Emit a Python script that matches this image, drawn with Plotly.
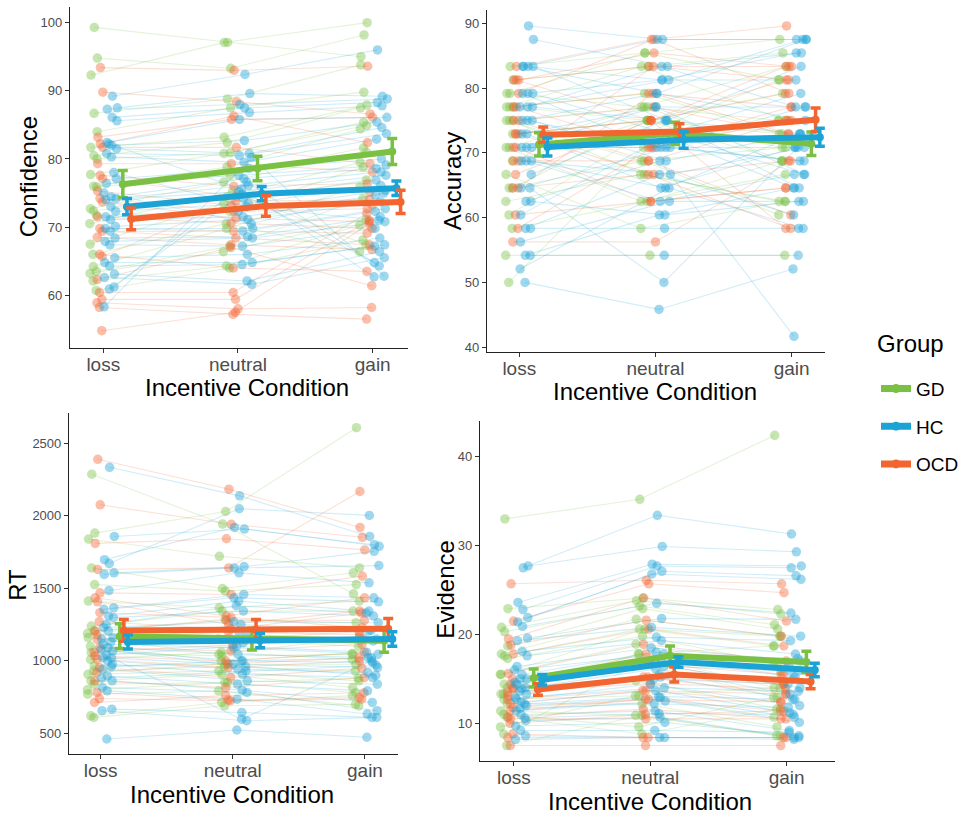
import plotly.graph_objects as go

FONT = "Liberation Sans, Arial, Helvetica, sans-serif"
W, H = 978, 818

CONDITIONS = ["loss", "neutral", "gain"]
GROUPS = ["GD", "HC", "OCD"]
COLOR = {"GD": "#7AC143", "HC": "#1BA3D6", "OCD": "#F26531"}

# ---- per-subject values: [loss, neutral, gain] ----
CONF_GD = [
    [99.3, 97.1, 95.0], [94.8, 93.3, 98.2], [92.3, 97.1, 100.0], [86.7, 88.8, 93.8],
    [84.0, 87.5, 89.8], [81.7, 83.2, 87.9], [80.5, 82.4, 87.5], [80.0, 80.9, 85.4],
    [77.7, 80.8, 84.9], [76.0, 78.8, 84.4], [75.9, 77.6, 81.6], [72.7, 76.6, 81.0],
    [72.4, 74.4, 79.5], [71.7, 72.3, 78.8], [67.5, 73.5, 76.9], [64.2, 69.8, 75.9],
    [63.5, 67.2, 74.2], [63.2, 66.4, 71.1], [62.1, 64.3, 70.3], [60.7, 64.0, 68.1],
    [70.5, 75.2, 67.4], [66.0, 70.5, 66.4],
]
CONF_HC = [
    [89.2, 92.4, 96.0], [87.5, 89.6, 89.2], [87.3, 88.0, 88.8], [86.1, 87.5, 88.3],
    [85.6, 86.8, 87.8], [82.4, 85.8, 86.1], [82.0, 82.7, 85.4], [81.5, 80.8, 84.6],
    [80.8, 80.5, 83.7], [80.3, 79.5, 82.9], [77.1, 78.6, 80.0], [76.4, 77.6, 79.1],
    [74.4, 77.1, 78.6], [74.2, 76.1, 78.1], [74.0, 75.2, 77.6], [73.0, 74.2, 76.9],
    [72.3, 73.5, 76.1], [71.5, 72.3, 75.4], [71.1, 71.5, 74.7], [70.1, 71.1, 73.7],
    [69.8, 69.8, 72.7], [69.4, 69.4, 72.3], [68.4, 68.6, 71.5], [67.9, 68.4, 70.8],
    [67.4, 67.2, 69.8], [65.5, 66.0, 68.4], [64.8, 64.8, 67.4], [64.3, 64.5, 67.2],
    [63.1, 62.1, 66.4], [62.6, 61.6, 65.5], [60.9, 74.8, 64.8], [61.2, 76.6, 64.3],
    [58.3, 80.2, 62.8], [82.2, 75.6, 62.7], [78.0, 73.0, 71.0], [75.0, 70.5, 75.0],
]
CONF_OCD = [
    [93.4, 93.0, 93.6], [89.8, 88.4, 86.6], [83.2, 85.8, 86.1], [82.2, 86.3, 82.4],
    [81.7, 81.7, 79.3], [79.3, 79.3, 78.1], [77.6, 76.0, 76.4], [77.1, 74.5, 75.2],
    [75.3, 73.2, 73.2], [74.2, 72.3, 72.7], [73.7, 71.3, 70.8], [71.5, 70.6, 69.8],
    [69.8, 69.4, 69.1], [69.4, 68.4, 67.4], [68.5, 67.4, 66.7], [66.0, 64.0, 63.5],
    [65.7, 73.8, 74.0], [62.3, 67.0, 61.4], [60.4, 60.4, 72.0], [59.4, 59.4, 71.0],
    [58.9, 58.0, 58.2], [58.2, 57.2, 56.5], [54.8, 57.5, 70.5],
]

ACC_GD = [
    [83.33, 85.42, 87.5], [81.25, 83.33, 85.42], [79.17, 77.08, 83.33], [79.17, 85.42, 81.25],
    [77.08, 75.0, 79.17], [77.08, 83.33, 75.0], [77.08, 79.17, 72.92], [75.0, 77.08, 68.75],
    [75.0, 68.75, 70.83], [75.0, 66.67, 62.5], [72.92, 75.0, 70.83], [70.83, 62.5, 66.67],
    [70.83, 77.08, 75.0], [68.75, 75.0, 68.75], [66.67, 58.33, 62.5], [64.58, 68.75, 60.42],
    [64.58, 75.0, 72.92], [62.5, 66.67, 62.5], [60.42, 72.92, 81.25], [58.33, 62.5, 68.75],
    [54.17, 54.17, 54.17], [50.0, 70.83, 75.0],
]
ACC_HC = [
    [89.58, 87.5, 87.5], [87.5, 83.33, 85.42], [83.33, 87.5, 87.5], [83.33, 81.25, 85.42],
    [83.33, 75.0, 83.33], [83.33, 79.17, 87.5], [79.17, 81.25, 81.25], [79.17, 72.92, 79.17],
    [79.17, 70.83, 77.08], [77.08, 83.33, 77.08], [77.08, 75.0, 72.92], [75.0, 79.17, 75.0],
    [75.0, 70.83, 70.83], [75.0, 68.75, 72.92], [72.92, 77.08, 77.08], [72.92, 64.58, 70.83],
    [70.83, 70.83, 68.75], [70.83, 77.08, 66.67], [70.83, 72.92, 64.58], [68.75, 64.58, 72.92],
    [68.75, 66.67, 70.83], [68.75, 62.5, 66.67], [66.67, 75.0, 64.58], [64.58, 70.83, 68.75],
    [62.5, 68.75, 41.67], [62.5, 60.42, 62.5], [60.42, 72.92, 66.67], [58.33, 66.67, 60.42],
    [58.33, 58.33, 58.33], [56.25, 62.5, 62.5], [54.17, 60.42, 64.58], [54.17, 54.17, 54.17],
    [52.08, 64.58, 58.33], [50.0, 45.83, 52.08], [64.58, 50.0, 70.83], [77.08, 81.25, 87.5],
]
ACC_OCD = [
    [83.33, 87.5, 89.58], [81.25, 85.42, 83.33], [81.25, 83.33, 83.33], [81.25, 75.0, 81.25],
    [79.17, 87.5, 79.17], [77.08, 79.17, 77.08], [77.08, 70.83, 75.0], [75.0, 77.08, 72.92],
    [75.0, 68.75, 75.0], [72.92, 75.0, 83.33], [72.92, 66.67, 68.75], [70.83, 70.83, 77.08],
    [70.83, 62.5, 64.58], [68.75, 83.33, 81.25], [68.75, 68.75, 60.42], [66.67, 75.0, 58.33],
    [64.58, 79.17, 72.92], [64.58, 66.67, 58.33], [60.42, 62.5, 64.58], [58.33, 70.83, 75.0],
    [56.25, 56.25, 68.75], [72.92, 75.0, 79.17],
]

RT_GD = [
    [2287, 1943, 1462], [1881, 2030, 2608], [1840, 1721, 1641], [1641, 1499, 1607],
    [1526, 1481, 1526], [1412, 1366, 1412], [1240, 1343, 1343], [1206, 1286, 1263],
    [1160, 1045, 1160], [1057, 1034, 1045], [965, 977, 977], [907, 931, 862],
    [862, 907, 816], [839, 850, 782], [770, 793, 690], [621, 713, 760],
    [610, 690, 700], [1190, 1150, 1100], [1010, 1060, 1010], [930, 960, 930],
    [800, 850, 880], [1100, 1000, 1050],
]
RT_HC = [
    [2335, 2138, 1858], [1858, 1909, 1801], [1698, 1920, 1790], [1671, 2049, 2003],
    [1607, 1650, 1755], [1596, 1641, 1657], [1485, 1607, 1538], [1366, 1458, 1435],
    [1355, 1435, 1407], [1309, 1412, 1343], [1298, 1343, 1309], [1229, 1270, 1263],
    [1206, 1206, 1206], [1160, 1125, 1137], [1114, 1091, 1045], [1091, 1045, 1022],
    [1068, 999, 988], [1022, 977, 954], [999, 942, 919], [977, 907, 885],
    [942, 862, 839], [896, 839, 793], [862, 798, 713], [816, 782, 656],
    [793, 736, 633], [667, 644, 610], [656, 587, 610], [461, 523, 473],
    [1020, 598, 1000], [1150, 1180, 1150], [1040, 1100, 1060], [960, 1000, 1020],
    [880, 930, 970], [1250, 1380, 1330], [1130, 1250, 1210], [1080, 960, 900],
]
RT_OCD = [
    [2390, 2184, 1920], [2076, 1942, 1852], [1810, 1842, 1765], [1630, 1641, 2168],
    [1469, 1458, 1584], [1435, 1309, 1435], [1407, 1251, 1343], [1332, 1300, 1229],
    [1206, 1280, 1280], [1148, 1200, 1180], [1091, 1068, 1114], [1034, 999, 1060],
    [1011, 954, 999], [954, 885, 950], [862, 816, 885], [782, 729, 747],
    [740, 725, 736], [713, 760, 780], [1180, 1150, 1200], [1270, 1220, 1330],
    [1060, 1110, 1150], [920, 980, 1020],
]

EVID_GD = [
    [33.0, 35.2, 42.4], [22.9, 24.1, 22.8], [20.8, 23.8, 22.3], [20.3, 23.2, 21.1],
    [18.7, 22.9, 20.6], [17.8, 21.7, 19.8], [17.6, 20.6, 18.7], [17.3, 19.8, 16.7],
    [15.5, 18.9, 15.9], [14.4, 17.8, 14.0], [14.0, 16.7, 12.9], [13.3, 14.8, 11.6],
    [12.7, 13.1, 10.7], [12.2, 12.2, 9.6], [11.4, 10.9, 8.6], [11.0, 9.6, 12.9],
    [10.7, 8.8, 11.6], [9.6, 13.1, 14.0], [8.8, 16.7, 16.7], [7.5, 10.9, 8.6],
    [15.5, 20.6, 19.8], [13.3, 17.8, 18.7],
]
EVID_HC = [
    [27.5, 33.4, 31.3], [27.7, 29.9, 29.3], [23.6, 27.9, 27.7], [22.8, 27.7, 27.5],
    [21.9, 27.1, 26.6], [21.4, 26.8, 26.2], [20.9, 23.5, 22.4], [19.6, 21.8, 21.7],
    [19.3, 20.8, 19.8], [18.1, 19.7, 19.3], [17.6, 19.3, 17.8], [16.4, 18.5, 17.0],
    [15.5, 18.0, 15.9], [15.0, 17.2, 15.2], [14.4, 16.7, 14.0], [13.9, 16.1, 13.3],
    [13.3, 15.2, 12.7], [12.7, 14.4, 12.0], [12.4, 13.7, 11.2], [12.0, 12.9, 10.7],
    [11.4, 12.5, 10.1], [11.0, 11.4, 9.2], [10.3, 10.7, 8.4], [9.7, 10.1, 8.6],
    [9.2, 9.2, 9.0], [8.6, 8.4, 8.2], [8.2, 8.4, 8.4], [15.0, 17.0, 16.5],
    [14.0, 15.5, 15.0], [12.9, 14.0, 13.6], [11.7, 12.2, 11.8], [10.6, 11.1, 11.0],
    [14.6, 16.4, 15.9], [13.6, 15.0, 14.4], [12.2, 13.0, 12.7], [16.0, 17.8, 17.3],
]
EVID_OCD = [
    [25.7, 26.1, 25.7], [21.5, 25.7, 24.7], [19.5, 24.1, 21.5], [18.8, 21.6, 19.8],
    [17.8, 20.6, 18.7], [15.6, 18.9, 17.0], [14.4, 17.8, 15.5], [13.9, 16.7, 14.4],
    [13.1, 15.2, 13.3], [12.2, 13.7, 12.4], [11.8, 12.7, 11.4], [10.7, 11.6, 10.5],
    [10.5, 10.5, 10.5], [8.8, 8.4, 8.4], [8.4, 8.4, 8.4], [7.5, 7.5, 7.5],
    [14.0, 15.2, 14.4], [12.7, 13.7, 13.3], [11.4, 12.7, 12.4], [15.0, 16.7, 15.5],
    [13.5, 14.5, 13.9], [10.0, 11.0, 11.4],
]

# ---- group means and standard errors: [loss, neutral, gain] ----
CONF_MEAN_GD, CONF_SE_GD = [76.3, 78.6, 81.1], [2.0, 1.8, 1.9]
CONF_MEAN_HC, CONF_SE_HC = [73.0, 74.9, 75.7], [1.2, 1.05, 1.05]
CONF_MEAN_OCD, CONF_SE_OCD = [71.2, 73.1, 73.7], [1.6, 1.5, 1.7]

ACC_MEAN_GD, ACC_SE_GD = [71.3, 73.0, 71.4], [1.8, 1.7, 1.8]
ACC_MEAN_HC, ACC_SE_HC = [70.9, 72.0, 72.4], [1.4, 1.3, 1.4]
ACC_MEAN_OCD, ACC_SE_OCD = [72.8, 73.3, 75.1], [1.2, 1.2, 1.8]

RT_MEAN_GD, RT_SE_GD = [1170, 1150, 1138], [85, 75, 78]
RT_MEAN_HC, RT_SE_HC = [1130, 1140, 1150], [48, 50, 50]
RT_MEAN_OCD, RT_SE_OCD = [1210, 1215, 1222], [75, 70, 70]

EVID_MEAN_GD, EVID_SE_GD = [15.1, 17.6, 16.9], [1.0, 1.1, 1.2]
EVID_MEAN_HC, EVID_SE_HC = [14.9, 16.9, 16.0], [0.6, 0.6, 0.75]
EVID_MEAN_OCD, EVID_SE_OCD = [13.8, 15.5, 14.7], [0.65, 0.85, 0.8]


def rgba(hex_color, alpha):
    h = hex_color.lstrip("#")
    r, g, b = int(h[0:2], 16), int(h[2:4], 16), int(h[4:6], 16)
    return f"rgba({r},{g},{b},{alpha})"


def fx(px):
    return px / W


def fy(px):
    return 1 - px / H


# horizontal spread of each group's subject points around a condition
JITTER = {"GD": (-0.11, -0.04), "OCD": (-0.055, 0.0), "HC": (0.0, 0.11)}
MEAN_SHIFT = [0.145, 0.176, 0.207]


def spread(i, c, lo, hi):
    u = ((i * 7 + c * 3 + 1) * 0.6180339887) % 1.0
    return lo + (hi - lo) * u


PANELS = [
    dict(title="Confidence",
         subjects={"GD": CONF_GD, "HC": CONF_HC, "OCD": CONF_OCD},
         means={"GD": (CONF_MEAN_GD, CONF_SE_GD), "HC": (CONF_MEAN_HC, CONF_SE_HC),
                "OCD": (CONF_MEAN_OCD, CONF_SE_OCD)},
         order=["GD", "HC", "OCD"],
         yrange=[52.3, 102.3], xrange=[-0.247, 2.262], yticks=[60, 70, 80, 90, 100],
         box=(70, 408, 7, 349), ytitle=(28, 178), xtitle=(247, 389)),
    dict(title="Accuracy",
         subjects={"GD": ACC_GD, "HC": ACC_HC, "OCD": ACC_OCD},
         means={"GD": (ACC_MEAN_GD, ACC_SE_GD), "HC": (ACC_MEAN_HC, ACC_SE_HC),
                "OCD": (ACC_MEAN_OCD, ACC_SE_OCD)},
         order=["GD", "OCD", "HC"],
         yrange=[39.3, 92.05], xrange=[-0.237, 2.245], yticks=[40, 50, 60, 70, 80, 90],
         box=(487, 825, 10, 353), ytitle=(452, 182), xtitle=(655, 393)),
    dict(title="RT",
         subjects={"GD": RT_GD, "HC": RT_HC, "OCD": RT_OCD},
         means={"GD": (RT_MEAN_GD, RT_SE_GD), "HC": (RT_MEAN_HC, RT_SE_HC),
                "OCD": (RT_MEAN_OCD, RT_SE_OCD)},
         order=["GD", "OCD", "HC"],
         yrange=[356, 2706], xrange=[-0.239, 2.25], yticks=[500, 1000, 1500, 2000, 2500],
         box=(69, 398, 415, 757), ytitle=(18, 587), xtitle=(232, 797)),
    dict(title="Evidence",
         subjects={"GD": EVID_GD, "HC": EVID_HC, "OCD": EVID_OCD},
         means={"GD": (EVID_MEAN_GD, EVID_SE_GD), "HC": (EVID_MEAN_HC, EVID_SE_HC),
                "OCD": (EVID_MEAN_OCD, EVID_SE_OCD)},
         order=["GD", "OCD", "HC"],
         yrange=[5.74, 43.96], xrange=[-0.249, 2.355], yticks=[10, 20, 30, 40],
         box=(480, 835, 423, 764), ytitle=(446, 592), xtitle=(650, 804)),
]

fig = go.Figure()
layout_axes = {}
annotations = []

for p_idx, panel in enumerate(PANELS):
    n = p_idx + 1
    xa = "x" if n == 1 else f"x{n}"
    ya = "y" if n == 1 else f"y{n}"
    x0, x1, y0, y1 = panel["box"]

    # connecting lines per subject
    for g in ["GD", "OCD", "HC"]:
        lo, hi = JITTER[g]
        xs, ys = [], []
        for i, subj in enumerate(panel["subjects"][g]):
            for c, v in enumerate(subj):
                xs.append(c + spread(i, c, lo, hi))
                ys.append(v)
            xs.append(None)
            ys.append(None)
        fig.add_trace(go.Scatter(
            x=xs, y=ys, mode="lines", xaxis=xa, yaxis=ya, showlegend=False,
            hoverinfo="skip", line=dict(color=rgba(COLOR[g], 0.2), width=1.1)))

    # subject points
    for g in ["GD", "OCD", "HC"]:
        lo, hi = JITTER[g]
        xs, ys = [], []
        for i, subj in enumerate(panel["subjects"][g]):
            for c, v in enumerate(subj):
                xs.append(c + spread(i, c, lo, hi))
                ys.append(v)
        fig.add_trace(go.Scatter(
            x=xs, y=ys, mode="markers", xaxis=xa, yaxis=ya, showlegend=False,
            marker=dict(color=rgba(COLOR[g], 0.42), size=9.5, line=dict(width=0)),
            name=g))

    # group means with standard-error bars
    for k, g in enumerate(panel["order"]):
        m, se = panel["means"][g]
        fig.add_trace(go.Scatter(
            x=[c + MEAN_SHIFT[k] for c in range(3)], y=m, mode="lines+markers",
            xaxis=xa, yaxis=ya, showlegend=False, name=g,
            line=dict(color=COLOR[g], width=6),
            marker=dict(color=COLOR[g], size=8),
            error_y=dict(type="data", array=se, visible=True, color=COLOR[g],
                         thickness=3.5, width=5)))

    axis_common = dict(showline=True, linecolor="#222222", linewidth=1.2,
                       ticks="outside", ticklen=4, tickcolor="#333333", tickwidth=1.1,
                       showgrid=False, zeroline=False, fixedrange=True)
    layout_axes["xaxis" if n == 1 else f"xaxis{n}"] = dict(
        axis_common, domain=[fx(x0), fx(x1)], range=panel["xrange"], anchor=ya,
        tickmode="array", tickvals=[0, 1, 2], ticktext=CONDITIONS,
        ticklabelstandoff=-5,
        tickfont=dict(family=FONT, size=19, color="#4d4d4d"))
    layout_axes["yaxis" if n == 1 else f"yaxis{n}"] = dict(
        axis_common, domain=[fy(y1), fy(y0)], range=panel["yrange"], anchor=xa,
        tickmode="array", tickvals=panel["yticks"],
        tickfont=dict(family=FONT, size=13, color="#4d4d4d"))

    annotations.append(dict(
        text=panel["title"], xref="paper", yref="paper",
        x=fx(panel["ytitle"][0]), y=fy(panel["ytitle"][1]), xanchor="center",
        yanchor="middle", textangle=-90, showarrow=False,
        font=dict(family=FONT, size=24, color="black")))
    annotations.append(dict(
        text="Incentive Condition", xref="paper", yref="paper",
        x=fx(panel["xtitle"][0]), y=fy(panel["xtitle"][1]), xanchor="center",
        yanchor="middle", showarrow=False,
        font=dict(family=FONT, size=24, color="black")))

# legend heading
annotations.append(dict(
    text="Group", xref="paper", yref="paper", x=fx(875), y=fy(345),
    xanchor="left", yanchor="middle", showarrow=False,
    font=dict(family=FONT, size=24, color="black")))

# legend entries
for g in GROUPS:
    fig.add_trace(go.Scatter(
        x=[None], y=[None], mode="lines+markers", name=g, legendgroup=g,
        line=dict(color=COLOR[g], width=7), marker=dict(color=COLOR[g], size=9)))

fig.update_layout(
    width=W, height=H, margin=dict(l=0, r=0, t=0, b=0),
    paper_bgcolor="white", plot_bgcolor="white",
    font=dict(family=FONT, color="black"),
    annotations=annotations,
    legend=dict(
        x=fx(876), y=fy(371), xanchor="left", yanchor="top",
        font=dict(family=FONT, size=19, color="black"),
        tracegroupgap=10, bgcolor="rgba(0,0,0,0)"),
    **layout_axes,
)

fig.write_html("out.html")
